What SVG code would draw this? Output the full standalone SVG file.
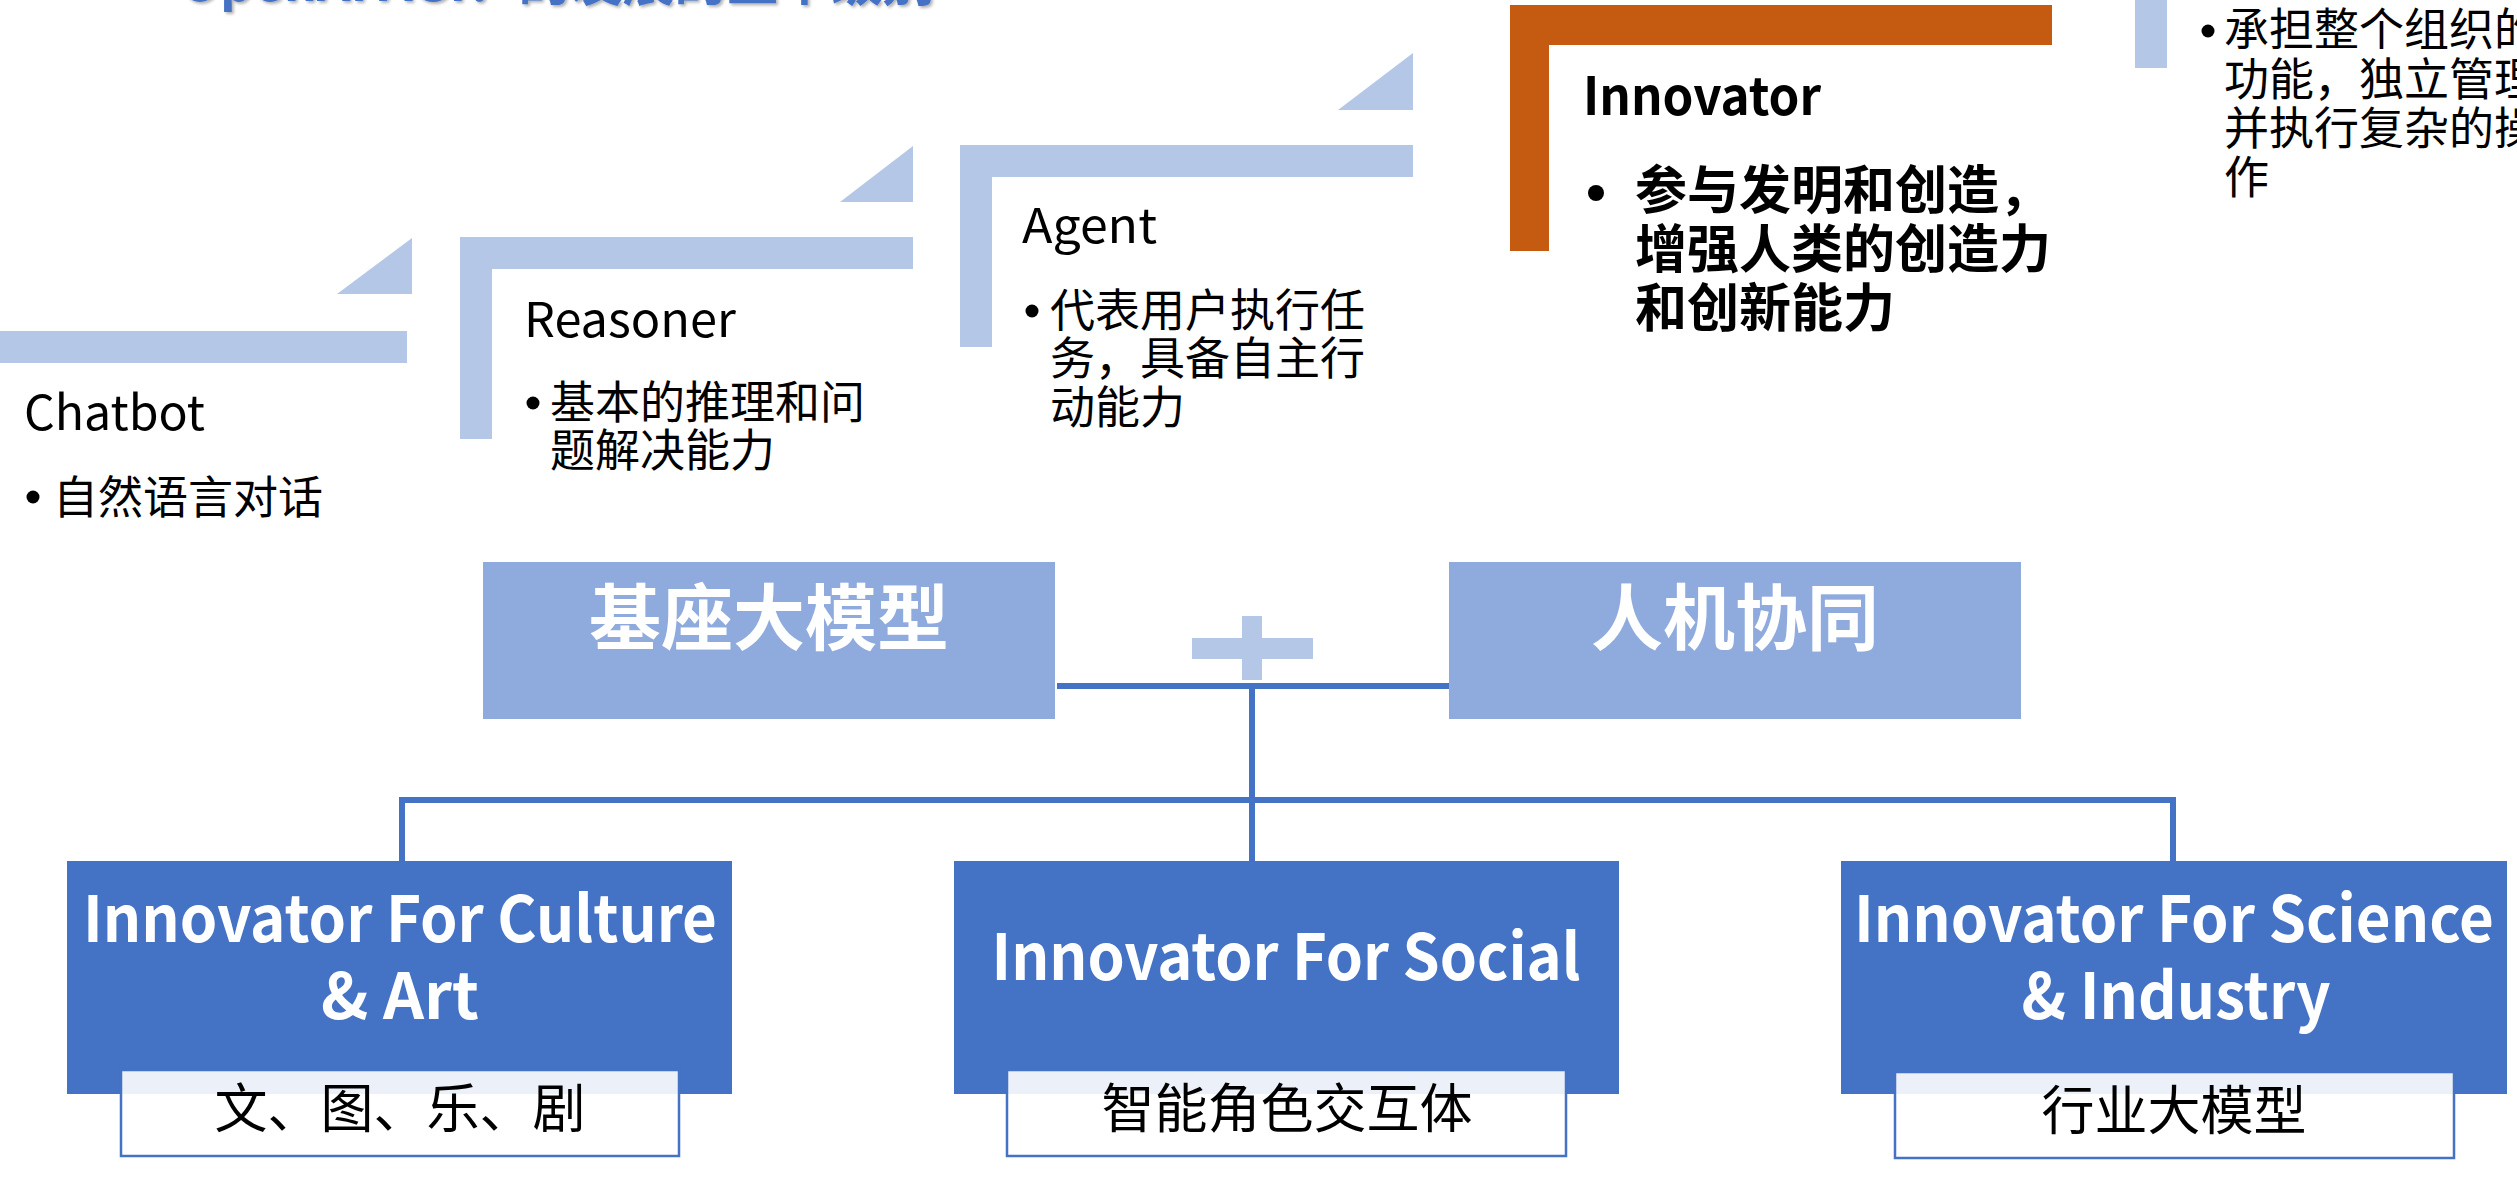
<svg xmlns="http://www.w3.org/2000/svg" width="2517" height="1179" viewBox="0 0 2517 1179">
<defs>
<filter id="shadow" x="-5%" y="-50%" width="110%" height="200%">
<feDropShadow dx="2" dy="2" stdDeviation="1.5" flood-color="#000" flood-opacity="0.3"/>
</filter>
</defs>
<style>
text{font-family:"Noto Sans CJK SC","Noto Sans",sans-serif;}
.lb{fill:#B4C7E7;}
.or{fill:#C55A11;}
.lbl{fill:#000;font-size:48px;}
.cjk{fill:#000;font-size:45px;}
.dot{fill:#000;}
.top{fill:#8FAADC;}
.topt{fill:#fff;font-size:72px;font-weight:bold;text-anchor:middle;}
.bot{fill:#4472C4;}
.bott{fill:#fff;font-size:64px;font-weight:bold;text-anchor:middle;}
.sub{fill:#fff;fill-opacity:0.9;stroke:#4472C4;stroke-width:2.5;}
.subt{fill:#000;font-size:53px;text-anchor:middle;}
.conn{stroke:#4472C4;stroke-width:6;fill:none;}
.title{fill:#4472C4;font-size:52px;font-weight:bold;}
.inn{fill:#000;font-size:52px;font-weight:bold;}
</style>

<g id="title">
<text class="title" x="180" y="1" filter="url(#shadow)">OpenAI AGI：的发展的五个级别</text>
</g>

<g id="chatbot">
<rect class="lb" x="0" y="331" width="407" height="32"/>
<text class="lbl" x="24" y="430" textLength="181" lengthAdjust="spacingAndGlyphs">Chatbot</text>
<circle class="dot" cx="33" cy="497" r="6.5"/>
<text class="cjk" x="53" y="514">自然语言对话</text>
</g>

<g id="reasoner">
<polygon class="lb" points="337,294 412,294 412,238"/>
<rect class="lb" x="460" y="237" width="32" height="202"/>
<rect class="lb" x="460" y="237" width="453" height="32"/>
<text class="lbl" x="524" y="337" textLength="212" lengthAdjust="spacingAndGlyphs">Reasoner</text>
<circle class="dot" cx="533" cy="403" r="6.5"/>
<text class="cjk" x="550" y="419">基本的推理和问</text>
<text class="cjk" x="550" y="467">题解决能力</text>
</g>

<g id="agent">
<polygon class="lb" points="840,202 913,202 913,146"/>
<rect class="lb" x="960" y="145" width="32" height="202"/>
<rect class="lb" x="960" y="145" width="453" height="32"/>
<text class="lbl" x="1022" y="243" textLength="135" lengthAdjust="spacingAndGlyphs">Agent</text>
<circle class="dot" cx="1032" cy="311" r="6.5"/>
<text class="cjk" x="1050" y="327">代表用户执行任</text>
<text class="cjk" x="1050" y="375">务，具备自主行</text>
<text class="cjk" x="1050" y="424">动能力</text>
</g>

<g id="innovator">
<polygon class="lb" points="1338,110 1413,110 1413,53"/>
<rect class="or" x="1510" y="5" width="39" height="246"/>
<rect class="or" x="1510" y="5" width="542" height="40"/>
<text class="inn" x="1583" y="115" textLength="238" lengthAdjust="spacingAndGlyphs">Innovator</text>
<circle class="dot" cx="1596" cy="193" r="8"/>
<text class="inn" x="1635" y="209">参与发明和创造，</text>
<text class="inn" x="1635" y="268">增强人类的创造力</text>
<text class="inn" x="1635" y="327">和创新能力</text>
</g>

<g id="organization">
<rect class="lb" x="2135" y="0" width="32" height="68"/>
<circle class="dot" cx="2208" cy="31" r="6.5"/>
<text class="cjk" x="2224" y="46">承担整个组织的</text>
<text class="cjk" x="2224" y="96">功能，独立管理</text>
<text class="cjk" x="2224" y="145">并执行复杂的操</text>
<text class="cjk" x="2224" y="194">作</text>
</g>

<g id="connectors">
<line class="conn" x1="1057" y1="686" x2="1449" y2="686"/>
<line class="conn" x1="1252" y1="686" x2="1252" y2="861"/>
<line class="conn" x1="399" y1="800" x2="2176" y2="800"/>
<line class="conn" x1="402" y1="797" x2="402" y2="861"/>
<line class="conn" x1="2173" y1="797" x2="2173" y2="861"/>
</g>

<g id="base-model">
<rect class="top" x="483" y="562" width="572" height="157"/>
<text class="topt" x="769" y="644">基座大模型</text>
</g>

<g id="plus">
<rect class="lb" x="1242" y="616" width="20" height="64"/>
<rect class="lb" x="1192" y="638" width="121" height="21"/>
</g>

<g id="human-machine">
<rect class="top" x="1449" y="562" width="572" height="157"/>
<text class="topt" x="1735" y="644">人机协同</text>
</g>

<g id="culture">
<rect class="bot" x="67" y="861" width="665" height="233"/>
<text class="bott" x="400" y="942" textLength="634" lengthAdjust="spacingAndGlyphs">Innovator For Culture</text>
<text class="bott" x="400" y="1019">&amp; Art</text>
<rect class="sub" x="121" y="1070" width="558" height="86"/>
<text class="subt" x="400" y="1128">文、图、乐、剧</text>
</g>

<g id="social">
<rect class="bot" x="954" y="861" width="665" height="233"/>
<text class="bott" x="1286" y="980" textLength="589" lengthAdjust="spacingAndGlyphs">Innovator For Social</text>
<rect class="sub" x="1007" y="1070" width="559" height="86"/>
<text class="subt" x="1287" y="1128">智能角色交互体</text>
</g>

<g id="science">
<rect class="bot" x="1841" y="861" width="666" height="233"/>
<text class="bott" x="2174" y="942" textLength="640" lengthAdjust="spacingAndGlyphs">Innovator For Science</text>
<text class="bott" x="2176" y="1019" textLength="309" lengthAdjust="spacingAndGlyphs">&amp; Industry</text>
<rect class="sub" x="1895" y="1072" width="559" height="86"/>
<text class="subt" x="2174" y="1130">行业大模型</text>
</g>
</svg>
